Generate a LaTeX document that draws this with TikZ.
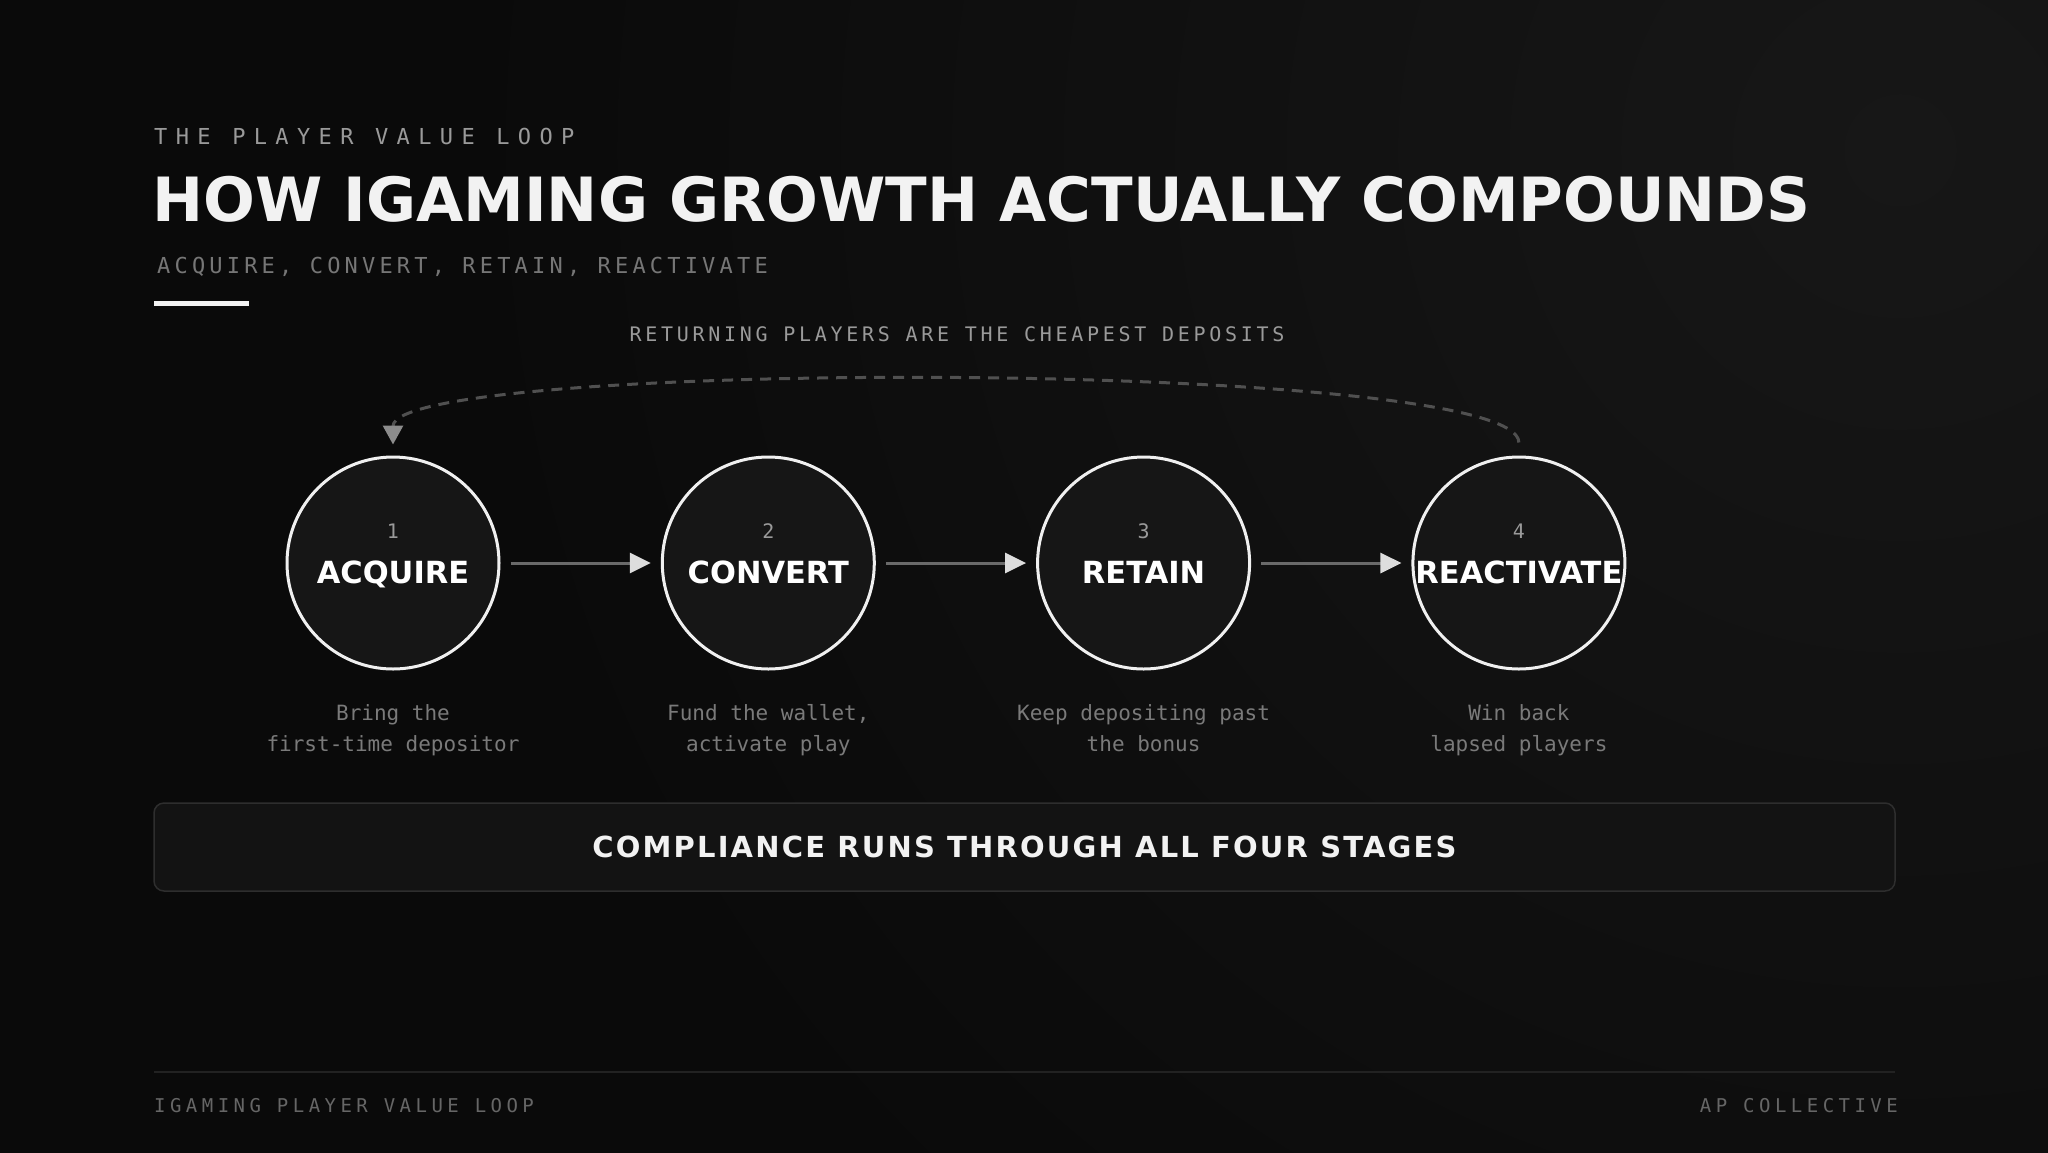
\documentclass[tikz,border=0pt]{standalone}
\usepackage{fontspec}
\setmainfont{DejaVu Sans}
\newfontfamily\monofont{DejaVu Sans Mono}
\newfontfamily\kickerfont[LetterSpace=38]{DejaVu Sans Mono}
\newfontfamily\subfont[LetterSpace=19]{DejaVu Sans Mono}
\newfontfamily\notefont[LetterSpace=18.5]{DejaVu Sans Mono}
\newfontfamily\footfont[LetterSpace=23.5]{DejaVu Sans Mono}
\newfontfamily\boxfont[LetterSpace=7.5]{DejaVu Sans}
\usetikzlibrary{arrows.meta, positioning}

\definecolor{bgdark}{HTML}{0A0A0A}
\definecolor{bgglow}{HTML}{171717}
\definecolor{titlewhite}{HTML}{F2F2F2}
\definecolor{kickergray}{HTML}{9A9A9A}
\definecolor{subgray}{HTML}{767676}
\definecolor{notegray}{HTML}{7A7A7A}
\definecolor{stagefill}{HTML}{161616}
\definecolor{ringwhite}{HTML}{F0F0F0}
\definecolor{flowgray}{HTML}{6A6A6A}
\definecolor{tipwhite}{HTML}{DDDDDD}
\definecolor{loopgray}{HTML}{505050}
\definecolor{loophead}{HTML}{8C8C8C}
\definecolor{boxfill}{HTML}{131313}
\definecolor{boxline}{HTML}{2E2E2E}
\definecolor{footgray}{HTML}{666666}
\definecolor{rulegray}{HTML}{222222}

\begin{document}
\begin{tikzpicture}[x=1pt, y=-1pt,
    stage/.style={circle, draw=ringwhite, line width=3pt, fill=stagefill,
        minimum size=212pt, inner sep=0pt},
    stagenum/.style={font=\monofont\fontsize{20}{24}\selectfont, text=kickergray,
        inner sep=0pt, anchor=base},
    stagename/.style={font=\bfseries\fontsize{30.5}{36}\selectfont, text=white,
        inner sep=0pt, anchor=base},
    stagenote/.style={font=\monofont\fontsize{21}{31}\selectfont, text=notegray,
        align=center, inner sep=0pt},
    flow/.style={draw=flowgray, line width=3pt, shorten <=10pt, shorten >=10pt,
        -{Triangle[length=21pt, width=20pt, color=tipwhite]}},
    loopline/.style={draw=loopgray, line width=3pt, dash pattern=on 11pt off 8pt,
        shorten <=13pt, shorten >=11pt,
        -{Triangle[length=19pt, width=20pt, color=loophead]}},
    compbox/.style={draw=boxline, line width=1.5pt, fill=boxfill, rounded corners=10pt,
        minimum width=1741pt, minimum height=88pt, inner sep=0pt,
        text=titlewhite, font=\boxfont\bfseries\fontsize{29}{33}\selectfont}
]
    % variables
    \pgfmathsetmacro{\vRow}{563}
    \pgfmathsetmacro{\vGap}{375.3}

    % background
    \useasboundingbox (0,0) rectangle (2048,1152);
    \fill[bgdark] (-4,-4) rectangle (2052,1156);
    \begin{scope}
        \clip (-4,-4) rectangle (2052,1156);
        \shade[inner color=bgglow, outer color=bgdark] (1900,150) circle (1450pt);
    \end{scope}

    % heading
    \node[anchor=base west, inner sep=0pt, text=kickergray,
        font=\kickerfont\fontsize{22}{26}\selectfont] (kicker) at (154,144)
        {THE PLAYER VALUE LOOP};
    \node[anchor=base west, inner sep=0pt, text=titlewhite,
        font=\bfseries\fontsize{61}{70}\selectfont] (title) at (152,221)
        {HOW IGAMING GROWTH ACTUALLY COMPOUNDS};
    \node[anchor=base west, inner sep=0pt, text=subgray,
        font=\subfont\fontsize{22}{26}\selectfont] (subtitle) at (157,273)
        {ACQUIRE, CONVERT, RETAIN, REACTIVATE};
    \fill[titlewhite] (154,301) rectangle (249,306);

    % stages
    \node[stage] (s1) at (393,\vRow) {};
    \node[stage] (s2) at (393+\vGap,\vRow) {};
    \node[stage] (s3) at (393+2*\vGap,\vRow) {};
    \node[stage] (s4) at (393+3*\vGap,\vRow) {};

    \node[stagenum] (n1) at ([yshift=25pt]s1.center) {1};
    \node[stagenum] (n2) at ([yshift=25pt]s2.center) {2};
    \node[stagenum] (n3) at ([yshift=25pt]s3.center) {3};
    \node[stagenum] (n4) at ([yshift=25pt]s4.center) {4};

    \node[stagename] (t1) at ([yshift=-20pt]s1.center) {ACQUIRE};
    \node[stagename] (t2) at ([yshift=-20pt]s2.center) {CONVERT};
    \node[stagename] (t3) at ([yshift=-20pt]s3.center) {RETAIN};
    \node[stagename] (t4) at ([yshift=-20pt]s4.center) {REACTIVATE};

    \node[stagenote, below=34pt of s1] (d1) {Bring the\\first-time depositor};
    \node[stagenote, below=34pt of s2] (d2) {Fund the wallet,\\activate play};
    \node[stagenote, below=34pt of s3] (d3) {Keep depositing past\\the bonus};
    \node[stagenote, below=34pt of s4] (d4) {Win back\\lapsed players};

    \draw[flow] (s1) -- (s2);
    \draw[flow] (s2) -- (s3);
    \draw[flow] (s3) -- (s4);

    % loop back
    \node[anchor=base, inner sep=0pt, text=kickergray,
        font=\notefont\fontsize{20}{24}\selectfont] (loopnote) at (957,341)
        {RETURNING PLAYERS ARE THE CHEAPEST DEPOSITS};
    \coordinate (c4) at ([yshift=97pt]s4.north);
    \coordinate (c1) at ([yshift=97pt]s1.north);
    \draw[loopline] (s4.north) .. controls (c4) and (c1) .. (s1.north);

    % compliance band
    \node[compbox] (comp) at (1024.5,847) {COMPLIANCE RUNS THROUGH ALL FOUR STAGES};

    % footer
    \draw[rulegray, line width=1.5pt] (154,1072) -- (1895,1072);
    \node[anchor=base west, inner sep=0pt, text=footgray,
        font=\footfont\fontsize{19}{22}\selectfont] (footleft) at (154,1112)
        {IGAMING PLAYER VALUE LOOP};
    \node[anchor=base east, inner sep=0pt, text=footgray,
        font=\footfont\fontsize{19}{22}\selectfont] (footright) at (1898,1112)
        {AP COLLECTIVE};
\end{tikzpicture}
\end{document}
